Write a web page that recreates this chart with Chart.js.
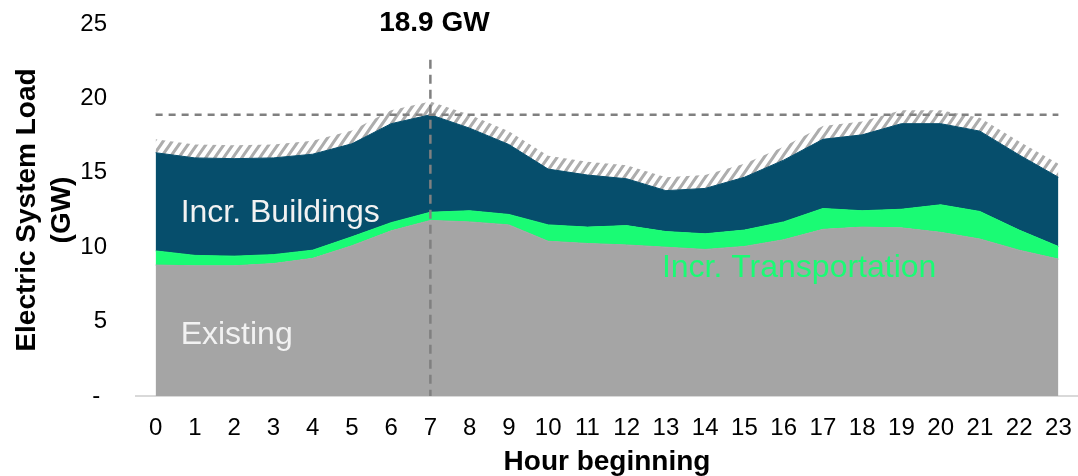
<!DOCTYPE html>
<html>
<head>
<meta charset="utf-8">
<script src="https://cdn.jsdelivr.net/npm/chart.js@4.4.1/dist/chart.umd.min.js"></script>
<style>
  html, body { margin: 0; padding: 0; background: #fff; }
</style>
</head>
<body>
<canvas id="load-chart" width="1078" height="476"></canvas>
<script>
// hourly electric system load (GW)
const HOURS = ['0', '1', '2', '3', '4', '5', '6', '7', '8', '9', '10', '11',
               '12', '13', '14', '15', '16', '17', '18', '19', '20', '21', '22', '23'];

const EXISTING = [8.8, 8.75, 8.75, 8.9, 9.25, 10.1, 11.1, 11.8, 11.7, 11.5, 10.4, 10.25,
                  10.15, 10.0, 9.85, 10.05, 10.5, 11.2, 11.35, 11.3, 11.0, 10.55, 9.8, 9.2];

const INCR_TRANSPORT = [0.95, 0.7, 0.65, 0.6, 0.55, 0.6, 0.55, 0.55, 0.75, 0.7, 1.1, 1.1,
                        1.3, 1.05, 1.05, 1.1, 1.2, 1.4, 1.1, 1.25, 1.85, 1.85, 1.35, 0.85];

const INCR_BUILDINGS = [6.6, 6.55, 6.55, 6.5, 6.45, 6.25, 6.65, 6.55, 5.55, 4.7, 3.75, 3.5,
                        3.15, 2.75, 3.05, 3.55, 4.15, 4.65, 5.1, 5.75, 5.45, 5.4, 5.05, 4.65];

// hatched band sitting on top of the stack
const HATCH_BAND = [0.9, 0.9, 0.9, 0.9, 0.9, 0.9, 0.9, 0.9, 0.9, 0.9, 0.9, 0.9,
                    0.9, 0.9, 0.9, 0.9, 0.9, 0.9, 0.9, 0.9, 0.9, 0.9, 0.9, 0.9];

const PEAK_LOAD = 18.9;
const PEAK_HOUR = '7';
const PEAK_LINE_TOP = 22.6;
const Y_MAX = 25;

const FONT = '"Liberation Sans", Arial, Helvetica, sans-serif';
const GRAY = '#a5a5a5';
const GREEN = '#1afb74';
const NAVY = '#064e6c';

// diagonal gray stripes for the top band
function makeHatch() {
  const c = document.createElement('canvas');
  c.width = 9;
  c.height = 13;
  const g = c.getContext('2d');
  g.strokeStyle = '#adadad';
  g.lineWidth = 3;
  g.beginPath();
  g.moveTo(-1, 14.4); g.lineTo(10, -1.4);
  g.moveTo(-10, 14.4); g.lineTo(1, -1.4);
  g.moveTo(8, 14.4); g.lineTo(19, -1.4);
  g.stroke();
  return g.createPattern(c, 'repeat');
}

// dashed peak lines + text labels
const annotations = {
  id: 'annotations',
  afterDatasetsDraw(chart) {
    const { ctx, scales: { x, y } } = chart;
    const px = x.getPixelForValue(HOURS.indexOf(PEAK_HOUR));
    const py = y.getPixelForValue(PEAK_LOAD);
    ctx.save();
    ctx.strokeStyle = '#808080';
    ctx.lineWidth = 2.5;

    // horizontal peak line
    ctx.setLineDash([7, 6]);
    ctx.beginPath();
    ctx.moveTo(x.getPixelForValue(0), py);
    ctx.lineTo(x.getPixelForValue(HOURS.length - 1), py);
    ctx.stroke();

    // vertical line at the peak hour
    ctx.setLineDash([9, 6]);
    ctx.beginPath();
    ctx.moveTo(px, y.getPixelForValue(PEAK_LINE_TOP));
    ctx.lineTo(px, y.getPixelForValue(0));
    ctx.stroke();
    ctx.setLineDash([]);

    ctx.fillStyle = '#000';
    ctx.font = `bold 28px ${FONT}`;
    ctx.textAlign = 'center';
    ctx.textBaseline = 'middle';
    ctx.fillText(`${PEAK_LOAD} GW`, px + 4, y.getPixelForValue(Y_MAX) - 1);

    // series labels inside the areas
    const x0 = x.getPixelForValue(0);
    ctx.textAlign = 'left';
    ctx.textBaseline = 'alphabetic';
    ctx.font = `32px ${FONT}`;
    ctx.fillStyle = '#f2f2f2';
    ctx.fillText('Incr. Buildings', x0 + 25, 222);
    ctx.fillText('Existing', x0 + 25, 344);
    ctx.fillStyle = GREEN;
    ctx.fillText('Incr. Transportation', x.getPixelForValue(13) - 4, 277);
    ctx.restore();
  }
};

const ctx = document.getElementById('load-chart').getContext('2d');
new Chart(ctx, {
  type: 'line',
  data: {
    labels: HOURS,
    datasets: [
      { label: 'Existing', data: EXISTING, backgroundColor: GRAY, borderColor: GRAY, fill: 'origin' },
      { label: 'Incr. Transportation', data: INCR_TRANSPORT, backgroundColor: GREEN, borderColor: GREEN, fill: '-1' },
      { label: 'Incr. Buildings', data: INCR_BUILDINGS, backgroundColor: NAVY, borderColor: NAVY, fill: '-1' },
      { label: 'Band', data: HATCH_BAND, backgroundColor: makeHatch(), borderColor: 'rgba(0,0,0,0)', fill: '-1' }
    ]
  },
  options: {
    responsive: false,
    animation: false,
    devicePixelRatio: 1,
    layout: { padding: { top: 24, left: 0, right: 0, bottom: 0 } },
    elements: {
      line: { tension: 0, borderWidth: 1 },
      point: { radius: 0, hoverRadius: 0 }
    },
    plugins: {
      legend: { display: false },
      tooltip: { enabled: false }
    },
    scales: {
      x: {
        offset: true,
        ticks: { padding: 18, color: '#000', font: { size: 24, family: FONT }, maxRotation: 0, autoSkip: false },
        grid: { display: false, drawTicks: false },
        border: { display: true, color: '#d9d9d9', width: 2 },
        title: {
          display: true, text: 'Hour beginning', color: '#000',
          font: { size: 28, weight: 'bold', family: FONT, lineHeight: 1 },
          padding: 0
        },
        afterFit: s => { s.height = 80; s.paddingLeft = 0; s.paddingRight = 0; }
      },
      y: {
        stacked: true,
        min: 0,
        max: Y_MAX,
        ticks: {
          stepSize: 5, padding: 29, color: '#000',
          font: { size: 24, family: FONT },
          callback: v => (v === 0 ? '- ' : v)
        },
        grid: { display: false, drawTicks: false },
        border: { display: false },
        title: {
          display: true, text: ['Electric System Load', '(GW)'], color: '#000',
          font: { size: 28, weight: 'bold', family: FONT, lineHeight: 1.25 },
          padding: { top: 10, bottom: 0 }
        },
        afterFit: s => { s.width = 136; s.paddingTop = 0; s.paddingBottom = 0; }
      }
    }
  },
  plugins: [annotations]
});
</script>
</body>
</html>
